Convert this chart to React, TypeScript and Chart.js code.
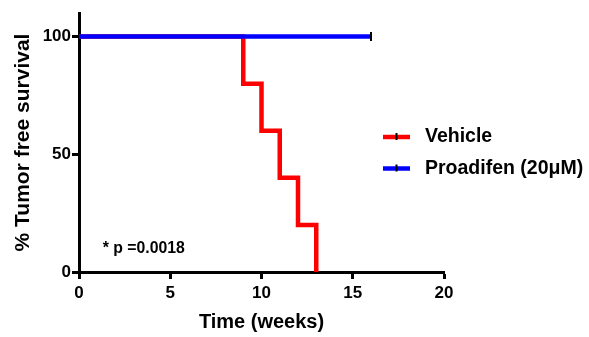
import React, { useEffect, useRef } from "react";
import { Chart, registerables } from "chart.js";

Chart.register(...registerables);

const vehicleTimes = [0, 9, 10, 11, 12, 13];
const vehicleSurvival = [100, 80, 60, 40, 20, 0];
const proadifenTimes = [0, 16];
const proadifenSurvival = [100, 100];
const proadifenCensored = [false, true];
const xTicks = [0, 5, 10, 15, 20];
const yTicks = [0, 50, 100];
const seriesLabels = ["Vehicle", "Proadifen (20\u03BCM)"];
const seriesColors = ["#FF0000", "#0000FF"];
const pValueText = "* p =0.0018";
const pValueAt = [1.3, 9.8];

const FAMILY = '"Liberation Sans", Arial, sans-serif';

const overlayPlugin = {
  id: "overlay",
  afterDraw(chart: any) {
    const { ctx, chartArea, scales } = chart;
    ctx.save();
    ctx.fillStyle = "#000";
    ctx.textBaseline = "middle";
    ctx.textAlign = "left";
    ctx.font = `bold 15.8px ${FAMILY}`;
    ctx.fillText(
      pValueText,
      scales.x.getPixelForValue(pValueAt[0]),
      scales.y.getPixelForValue(pValueAt[1])
    );
    const lx = chartArea.right - 61;
    const ly0 = 137;
    const gap = 31.5;
    seriesLabels.forEach((lab, i) => {
      const y = ly0 + i * gap;
      ctx.strokeStyle = seriesColors[i];
      ctx.lineWidth = 4.5;
      ctx.lineCap = "butt";
      ctx.beginPath();
      ctx.moveTo(lx, y);
      ctx.lineTo(lx + 27, y);
      ctx.stroke();
      ctx.strokeStyle = "#000";
      ctx.lineWidth = 2;
      ctx.beginPath();
      ctx.moveTo(lx + 13.5, y - 4);
      ctx.lineTo(lx + 13.5, y + 3);
      ctx.stroke();
      ctx.fillStyle = "#000";
      ctx.font = `bold 19.5px ${FAMILY}`;
      ctx.fillText(lab, lx + 42, y);
    });
    ctx.restore();
  },
};

export default function App() {
  const canvasRef = useRef<HTMLCanvasElement | null>(null);

  useEffect(() => {
    if (!canvasRef.current) return;
    const chart = new Chart(canvasRef.current, {
      type: "line",
      data: {
        datasets: [
          {
            label: seriesLabels[0],
            data: vehicleTimes.map((t, i) => ({ x: t, y: vehicleSurvival[i] })),
            borderColor: seriesColors[0],
            backgroundColor: seriesColors[0],
            borderWidth: 4.5,
            stepped: true,
            pointRadius: 0,
            borderJoinStyle: "miter",
            borderCapStyle: "butt",
            order: 1,
          },
          {
            label: seriesLabels[1],
            data: proadifenTimes.map((t, i) => ({ x: t, y: proadifenSurvival[i] })),
            borderColor: seriesColors[1],
            backgroundColor: seriesColors[1],
            borderWidth: 4.5,
            stepped: true,
            pointStyle: "line",
            pointRotation: 90,
            pointRadius: proadifenCensored.map((c) => (c ? 4.5 : 0)),
            pointBorderColor: "#000",
            pointBorderWidth: 2,
            borderJoinStyle: "miter",
            borderCapStyle: "butt",
            order: 0,
          },
        ],
      },
      options: {
        animation: false,
        responsive: true,
        maintainAspectRatio: false,
        events: [],
        layout: { padding: { top: 13, right: 145, left: 0, bottom: 0 } },
        plugins: {
          legend: { display: false },
          tooltip: { enabled: false },
        },
        scales: {
          x: {
            type: "linear",
            min: 0,
            max: 20,
            z: 1,
            afterFit: (s: any) => {
              s.height = 65;
            },
            afterBuildTicks: (s: any) => {
              s.ticks = xTicks.map((v) => ({ value: v }));
            },
            grid: {
              display: true,
              drawOnChartArea: false,
              drawTicks: true,
              tickLength: 7,
              tickWidth: 3,
              tickColor: "#000",
            },
            border: { display: true, color: "#000", width: 3 },
            ticks: {
              color: "#000",
              font: { family: FAMILY, size: 17, weight: "bold" },
              padding: 4,
              maxRotation: 0,
              autoSkip: false,
            },
            title: {
              display: true,
              text: "Time (weeks)",
              color: "#000",
              font: { family: FAMILY, size: 20, weight: "bold" },
              padding: { top: 0, bottom: 2.5 },
            },
          },
          y: {
            type: "linear",
            min: 0,
            max: 110,
            z: 1,
            afterFit: (s: any) => {
              s.width = 79;
            },
            afterBuildTicks: (s: any) => {
              s.ticks = yTicks.map((v) => ({ value: v }));
            },
            grid: {
              display: true,
              drawOnChartArea: false,
              drawTicks: true,
              tickLength: 7,
              tickWidth: 3,
              tickColor: "#000",
            },
            border: { display: true, color: "#000", width: 3 },
            ticks: {
              color: "#000",
              font: { family: FAMILY, size: 17, weight: "bold" },
              padding: 1,
              autoSkip: false,
            },
            title: {
              display: true,
              text: "% Tumor free survival",
              color: "#000",
              font: { family: FAMILY, size: 21, weight: "bold" },
              padding: { top: 11, bottom: 0 },
            },
          },
        },
      },
      plugins: [overlayPlugin],
    });
    return () => chart.destroy();
  }, []);

  return (
    <div style={{ position: "fixed", left: 0, top: 0, width: 589, height: 337, background: "#fff" }}>
      <canvas ref={canvasRef} />
    </div>
  );
}
